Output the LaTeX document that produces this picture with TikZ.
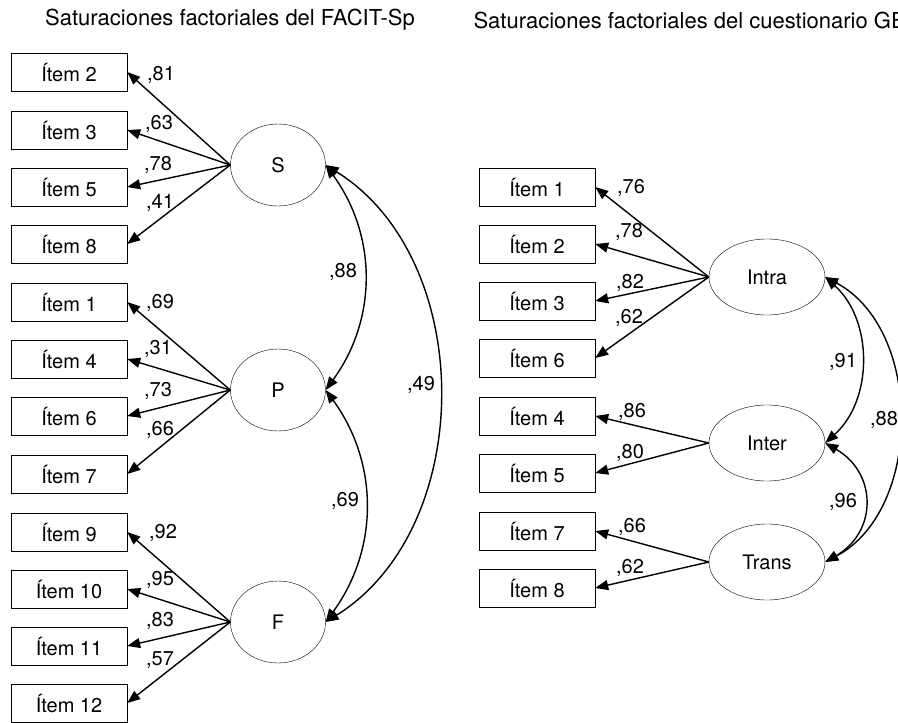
\documentclass[tikz,border=0pt]{standalone}
\usepackage{fontspec}
\setmainfont{TeX Gyre Heros}
\usetikzlibrary{shapes.geometric,arrows.meta}
\begin{document}
\begin{tikzpicture}[x=1pt, y=-1pt, every node/.style={font=\fontsize{20}{24}\selectfont}]
			\tikzstyle{item}=[draw, rectangle, minimum width=116, minimum height=38, inner sep=0]
			\tikzstyle{factor}=[draw, ellipse, minimum width=95, minimum height=82, inner sep=0]
			\tikzstyle{factorb}=[draw, ellipse, minimum width=116, minimum height=76, inner sep=0]
			\tikzstyle{load}=[-{Triangle[length=13pt,width=10pt]}, line width=1.4pt]
			\tikzstyle{corr}=[{Triangle[length=13pt,width=10pt]}-{Triangle[length=13pt,width=10pt]}, line width=1.4pt]
			\tikzstyle{title}=[font=\fontsize{22}{26}\selectfont]
			\useasboundingbox (0,0) rectangle (898,723);
			% FACIT-Sp
			\node[title] (titleA) at (230,20) {Saturaciones factoriales del FACIT-Sp};
			\node[item] (a2) at (69,72) {Ítem 2};
			\node[item] (a3) at (69,130) {Ítem 3};
			\node[item] (a5) at (69,187) {Ítem 5};
			\node[item] (a8) at (69,244) {Ítem 8};
			\node[item] (a1) at (69,302) {Ítem 1};
			\node[item] (a4) at (69,359) {Ítem 4};
			\node[item] (a6) at (69,416) {Ítem 6};
			\node[item] (a7) at (69,474) {Ítem 7};
			\node[item] (a9) at (69,532) {Ítem 9};
			\node[item] (a10) at (69,589) {Ítem 10};
			\node[item] (a11) at (69,646) {Ítem 11};
			\node[item] (a12) at (69,703) {Ítem 12};
			\node[factor] (S) at (278,165) {S};
			\node[factor] (P) at (278,390) {P};
			\node[factor] (F) at (278,622) {F};
			\draw[load] (S.west) -- (a2.east);
			\draw[load] (S.west) -- (a3.east);
			\draw[load] (S.west) -- (a5.east);
			\draw[load] (S.west) -- (a8.east);
			\draw[load] (P.west) -- (a1.east);
			\draw[load] (P.west) -- (a4.east);
			\draw[load] (P.west) -- (a6.east);
			\draw[load] (P.west) -- (a7.east);
			\draw[load] (F.west) -- (a9.east);
			\draw[load] (F.west) -- (a10.east);
			\draw[load] (F.west) -- (a11.east);
			\draw[load] (F.west) -- (a12.east);
			\node (s81) at (161,75) {,81};
			\node (s63) at (159,124) {,63};
			\node (s78) at (158,165) {,78};
			\node (s41) at (160,203) {,41};
			\node (p69) at (160,303) {,69};
			\node (p31) at (158,349) {,31};
			\node (p73) at (158,391) {,73};
			\node (p66) at (160,430) {,66};
			\node (f92) at (163,533) {,92};
			\node (f95) at (160,580) {,95};
			\node (f83) at (160,621) {,83};
			\node (f57) at (160,660) {,57};
			\draw[corr] (S.east) to[bend left=36] (P.east);
			\draw[corr] (P.east) to[bend left=36] (F.east);
			\draw[corr] (S.east) to[bend left=58] (F.east);
			\node (c88) at (343,272) {,88};
			\node (c69) at (345,501) {,69};
			\node (c49) at (421,385) {,49};
			% GES
			\node[title, anchor=west] (titleB) at (470,20) {Saturaciones factoriales del cuestionario GES};
			\node[item] (b1) at (537,187) {Ítem 1};
			\node[item] (b2) at (537,244) {Ítem 2};
			\node[item] (b3) at (537,301) {Ítem 3};
			\node[item] (b6) at (537,358) {Ítem 6};
			\node[item] (b4) at (537,416) {Ítem 4};
			\node[item] (b5) at (537,473) {Ítem 5};
			\node[item] (b7) at (537,531) {Ítem 7};
			\node[item] (b8) at (537,588) {Ítem 8};
			\node[factorb] (Intra) at (767,277) {Intra};
			\node[factorb] (Inter) at (767,443) {Inter};
			\node[factorb] (Trans) at (767,562) {Trans};
			\draw[load] (Intra.west) -- (b1.east);
			\draw[load] (Intra.west) -- (b2.east);
			\draw[load] (Intra.west) -- (b3.east);
			\draw[load] (Intra.west) -- (b6.east);
			\draw[load] (Inter.west) -- (b4.east);
			\draw[load] (Inter.west) -- (b5.east);
			\draw[load] (Trans.west) -- (b7.east);
			\draw[load] (Trans.west) -- (b8.east);
			\node (i76) at (631,188) {,76};
			\node (i78) at (629,232) {,78};
			\node (i82) at (630,283) {,82};
			\node (i62) at (629,318) {,62};
			\node (e86) at (632,412) {,86};
			\node (e80) at (630,453) {,80};
			\node (t66) at (632,527) {,66};
			\node (t62) at (630,568) {,62};
			\draw[corr] (Intra.east) to[bend left=48] (Inter.east);
			\draw[corr] (Inter.east) to[bend left=60, looseness=1.3] (Trans.east);
			\draw[corr] (Intra.east) to[bend left=62] (Trans.east);
			\node (c91) at (843,362) {,91};
			\node (c96) at (843,502) {,96};
			\node (c88b) at (884,420) {,88};
\end{tikzpicture}
\end{document}
